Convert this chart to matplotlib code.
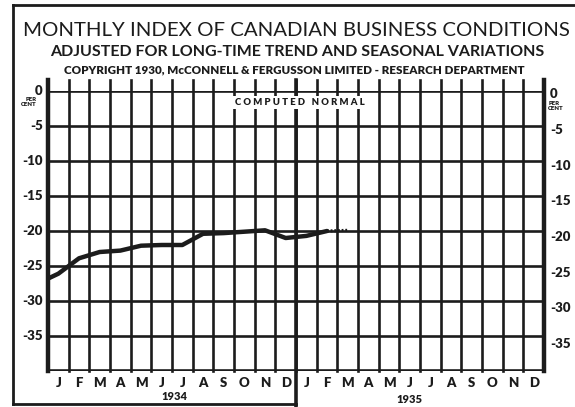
import matplotlib
matplotlib.use("Agg")
import matplotlib.pyplot as plt
from matplotlib.lines import Line2D
import matplotlib.transforms as mtransforms

# ---------------- data ----------------
title = "MONTHLY INDEX OF CANADIAN BUSINESS CONDITIONS"
subtitle = "ADJUSTED FOR LONG-TIME TREND AND SEASONAL VARIATIONS"
credit = "COPYRIGHT 1930, McCONNELL & FERGUSSON LIMITED - RESEARCH DEPARTMENT"
normal_label = "COMPUTED NORMAL"
month_letters = ["J", "F", "M", "A", "M", "J", "J", "A", "S", "O", "N", "D"]
years = ["1934", "1935"]
y_ticks = [0, -5, -10, -15, -20, -25, -30, -35]
# month index: 0 = Jan 1934 (−1 = Dec 1933, clipped at chart edge)
index_month = [-1, 0, 1, 2, 3, 4, 5, 6, 7, 8, 9, 10, 11, 12, 13]
index_value = [-27.5, -26.1, -23.9, -23.0, -22.8, -22.1, -22.0, -22.0,
               -20.4, -20.3, -20.1, -19.9, -21.0, -20.7, -20.0]
# preliminary (dotted) extension
prelim_month = [13, 14]
prelim_value = [-20.0, -19.9]

INK = "#1c1c1c"
FONT = "Lato"
LABEL_W = "heavy"

W, H, DPI = 575, 407, 100
fig = plt.figure(figsize=(W / DPI, H / DPI), dpi=DPI)
fig.patch.set_facecolor("white")

L, R, T, B = 48, 544, 91, 371
ax = fig.add_axes([L / W, 1 - B / H, (R - L) / W, (B - T) / H])
n_months = len(month_letters) * len(years)
ax.set_xlim(0, n_months)
ax.set_ylim(-40, 0)
ax.set_xticks([])
ax.set_yticks([])
for s in ax.spines.values():
    s.set_visible(False)

# grid: horizontal lines
for v in y_ticks:
    ax.axhline(v, color=INK, lw=1.9, zorder=1)
ax.axhline(-40, color=INK, lw=2.6, zorder=1)

# vertical month lines, extending above the zero line as ticks
for m in range(1, n_months):
    ax.add_line(Line2D([m, m], [-40, 1.6], color=INK, lw=1.9,
                       clip_on=False, zorder=1))
# heavy left / right borders
for m in (0, n_months):
    ax.add_line(Line2D([m, m], [-40, 1.6], color=INK, lw=3.2,
                       clip_on=False, zorder=2))
# year divider, extending down to the bottom
ax.add_line(Line2D([12, 12], [-45.5, 1.6], color=INK, lw=2.6,
                   clip_on=False, zorder=2))

# computed normal label
ax.text(n_months / 2 + 0.2, -1.7, "   ".join(" ".join(w) for w in normal_label.split()),
        ha="center", va="center", fontsize=6.8, fontweight=LABEL_W,
        family=FONT, color=INK, zorder=3,
        bbox=dict(facecolor="white", edgecolor="none", pad=1.5))

# data line
xs = [m + 0.5 for m in index_month]
ax.plot(xs, index_value, color=INK, lw=3.2, solid_joinstyle="round",
        solid_capstyle="round", zorder=4)
ax.plot([m + 0.5 for m in prelim_month], prelim_value, color=INK, lw=2.2,
        ls=(0, (0.6, 0.6)), zorder=4)

# y labels left and right
for v in y_ticks:
    lab = str(v) if v == 0 else "-" + str(abs(v))
    ax.text(-0.25, v, lab, ha="right", va="center", fontsize=9.5,
            fontweight=LABEL_W, family=FONT, color=INK,
            transform=ax.transData, clip_on=False)
    off = mtransforms.offset_copy(ax.transData, fig=fig, x=0, y=-3 - 0.15 * abs(v), units="dots")
    ax.text(n_months + 0.3, v, lab, ha="left", va="center", fontsize=9.5,
            fontweight=LABEL_W, family=FONT, color=INK,
            transform=off, clip_on=False)
ax.text(-0.55, -1.6, "PER\nCENT", ha="right", va="center", fontsize=4.3,
        fontweight=LABEL_W, family=FONT, color=INK, linespacing=0.9)
ax.text(n_months + 0.2, -2.1, "PER\nCENT", ha="left", va="center", fontsize=4.3,
        fontweight=LABEL_W, family=FONT, color=INK, linespacing=0.9)

# month letters and years
for i in range(n_months):
    ax.text(i + 0.5, -41.7, month_letters[i % 12], ha="center", va="center",
            fontsize=9.5, fontweight=LABEL_W, family=FONT, color=INK, clip_on=False)
for k, yr in enumerate(years):
    ax.text(12 * k + 6.1 - 0.6 * k, -43.6 - 0.5 * k, yr, ha="center", va="center",
            fontsize=8, fontweight=LABEL_W, family=FONT, color=INK, clip_on=False)

# titles (fitted to their widths in the reference)
def fitted(text, xc, yc, width_px, size, weight):
    t = fig.text(xc / W, 1 - yc / H, text, ha="center", va="center",
                 fontsize=size, fontweight=weight, family=FONT, color=INK)
    r = fig.canvas.get_renderer()
    w = t.get_window_extent(r).width
    t.set_fontsize(size * width_px / w)
    return t

fitted(title, 296, 30, 545, 18, "normal")
fitted(subtitle, 297, 52, 497, 11, "bold")
fitted(credit, 294, 70, 458, 7, "heavy")

# outer frame
frame_kw = dict(color=INK, lw=2.0, transform=fig.transFigure)
fig.add_artist(Line2D([13 / W, 13 / W], [1 - 5 / H, 1 - 404 / H], **frame_kw))
fig.add_artist(Line2D([13 / W, 1.0], [1 - 5 / H, 1 - 5 / H], **frame_kw))
fig.add_artist(Line2D([13 / W, 296 / W], [1 - 404 / H, 1 - 404 / H], **frame_kw))

fig.savefig("out.png", dpi=DPI, facecolor="white")
